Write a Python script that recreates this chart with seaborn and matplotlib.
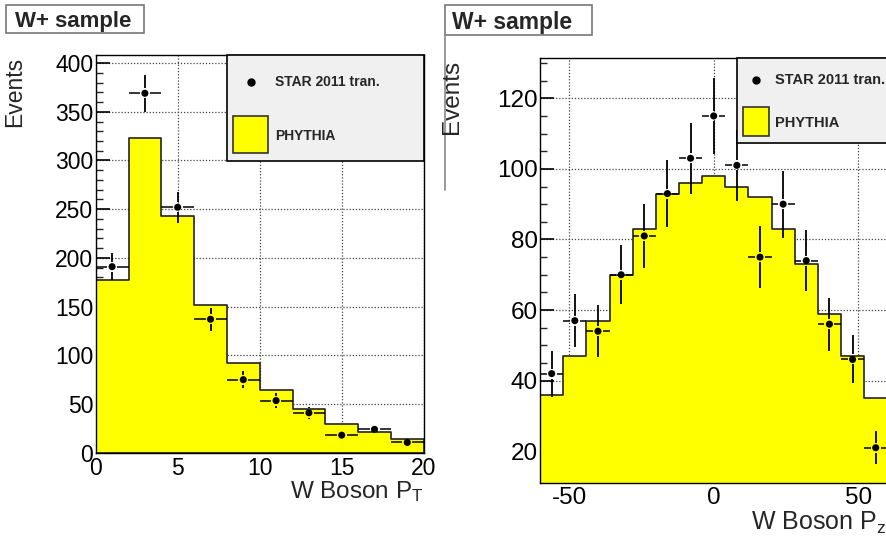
import numpy as np
import matplotlib
matplotlib.use("Agg")
import matplotlib.pyplot as plt
from matplotlib.patches import Rectangle
from matplotlib.lines import Line2D
from matplotlib.ticker import MultipleLocator
import seaborn as sns

# ---------------- data ----------------
pt_edges = [0, 2, 4, 6, 8, 10, 12, 14, 16, 18, 20]
pt_centers = [1, 3, 5, 7, 9, 11, 13, 15, 17, 19]
pt_mc = [177, 323, 243, 152, 92, 64, 45, 29, 21, 14.5]
pt_data = [191, 369, 252, 137, 75, 53.5, 41, 18, 24, 10.5]
pt_err = [13.8, 19.2, 15.9, 11.7, 8.7, 7.3, 6.4, 4.2, 4.9, 3.2]
pt_xerr = [1] * 10

pz_edges = [-60, -52, -44, -36, -28, -20, -12, -4, 4, 12, 20, 28, 36, 44, 52, 60]
pz_centers = [-56, -48, -40, -32, -24, -16, -8, 0, 8, 16, 24, 32, 40, 48, 56]
pz_mc = [36, 47, 57, 70, 83, 93, 96, 98, 95, 92, 83, 73, 59, 47, 35]
pz_data = [42, 57, 54, 70, 81, 93, 103, 115, 101, 75, 90, 74, 56, 46, 21]
pz_err = [6.5, 7.5, 7.3, 8.4, 9.0, 9.6, 10.1, 10.7, 10.0, 8.7, 9.5, 8.6, 7.5, 6.8, 4.6]
pz_xerr = [4] * 15

legend_data = "STAR 2011 tran."
legend_mc = "PHYTHIA"
title = "W+ sample"

# ---------------- style ----------------
sns.set_theme(style="white")
plt.rcParams["font.family"] = ["Liberation Sans", "DejaVu Sans"]
plt.rcParams["mathtext.fontset"] = "custom"
plt.rcParams["mathtext.rm"] = "Liberation Sans"
plt.rcParams["mathtext.it"] = "Liberation Sans"
plt.rcParams["axes.unicode_minus"] = False

W, H = 887, 539
fig = plt.figure(figsize=(W / 100, H / 100), dpi=100)
fig.patch.set_facecolor("white")


def fx(x):
    return x / W


def fy(y):
    return 1 - y / H


def make_axes(l, r, t, b):
    return fig.add_axes([fx(l), fy(b), (r - l) / W, (b - t) / H])


ax1 = make_axes(95.7, 423.7, 55, 452.7)
ax2 = make_axes(540.1, 887.3, 57.7, 483)

YELLOW = "#ffff00"


def draw_panel(ax, edges, centers, mc, data, err, xerr, xlim, ylim,
               ymaj, ymin_, xmaj, tick_fs):
    ax.set_axisbelow(True)
    sns.histplot(x=centers, weights=mc, bins=edges, element="step", fill=True,
                 color=YELLOW, alpha=1, edgecolor="#222222", linewidth=1.2,
                 ax=ax, legend=False, zorder=2)
    ax.set_xlim(*xlim)
    ax.set_ylim(*ylim)
    ax.set_xlabel("")
    ax.set_ylabel("")
    ax.yaxis.set_major_locator(MultipleLocator(ymaj))
    ax.yaxis.set_minor_locator(MultipleLocator(ymin_))
    ax.xaxis.set_major_locator(MultipleLocator(xmaj))
    ax.grid(True, which="major", linestyle=(0, (1, 1.5)), color="#444444",
            linewidth=0.9)
    ax.tick_params(axis="y", which="major", direction="in", length=10,
                   width=1.2, left=True, right=False, pad=1.8,
                   labelsize=tick_fs, colors="black")
    ax.tick_params(axis="y", which="minor", direction="in", length=5,
                   width=1, left=True, right=False)
    ax.tick_params(axis="x", which="both", length=0, pad=3,
                   labelsize=tick_fs, colors="black")
    for s in ax.spines.values():
        s.set_color("black")
        s.set_linewidth(1)
        s.set_zorder(6)

    # error bars with a gap around the marker (ROOT style)
    pos = ax.get_position()
    wpx, hpx = pos.width * W, pos.height * H
    gap = 5.0
    gx = gap * (xlim[1] - xlim[0]) / wpx
    gy = gap * (ylim[1] - ylim[0]) / hpx
    x = np.asarray(centers, float)
    y = np.asarray(data, float)
    ex = np.asarray(xerr, float)
    ey = np.asarray(err, float)
    ax.hlines(np.r_[y, y], np.r_[x - ex, x + gx], np.r_[x - gx, x + ex],
              color="black", linewidth=1.1, zorder=4)
    m = ey > gy
    ax.vlines(np.r_[x[m], x[m]], np.r_[y[m] - ey[m], y[m] + gy],
              np.r_[y[m] - gy, y[m] + ey[m]], color="black", linewidth=1.3,
              zorder=4)
    sns.scatterplot(x=x, y=y, color="black", s=26, edgecolor="none",
                    ax=ax, zorder=5, legend=False)
    ax.set_xlim(*xlim)
    ax.set_ylim(*ylim)


draw_panel(ax1, pt_edges, pt_centers, pt_mc, pt_data, pt_err, pt_xerr,
           (0, 20), (0, 408.3), 50, 10, 5, 16.5)
draw_panel(ax2, pz_edges, pz_centers, pz_mc, pz_data, pz_err, pz_xerr,
           (-60, 60), (11, 131.5), 20, 5, 50, 17.5)


# ---------------- title boxes ----------------
def title_box(l, t, r, b, tx, fs):
    fig.add_artist(Rectangle((fx(l), fy(b)), (r - l) / W, (b - t) / H,
                             transform=fig.transFigure, facecolor="white",
                             edgecolor="#777777", linewidth=1.2))
    fig.text(fx(tx), fy((t + b) / 2), title, fontsize=fs, fontweight="bold",
             ha="left", va="center_baseline")


title_box(6, 5, 144, 33.3, 15, 16)
title_box(445, 5, 591.7, 35, 451.7, 16.5)
fig.add_artist(Line2D([fx(445), fx(445)], [fy(35), fy(190)],
                      transform=fig.transFigure, color="#888888", lw=1.2))


# ---------------- legends ----------------
def legend_box(l, t, r, b, mx, my, tx, bx0, bx1, by0, by1, py, fs):
    fig.add_artist(Rectangle((fx(l), fy(b)), (r - l) / W, (b - t) / H,
                             transform=fig.transFigure, facecolor="#f0f0f0",
                             edgecolor="black", linewidth=1.2, zorder=10))
    fig.add_artist(Line2D([fx(mx)], [fy(my)], marker="o", markersize=5,
                          color="black", linestyle="none",
                          transform=fig.transFigure, zorder=11))
    fig.text(fx(tx), fy(my), legend_data, fontsize=fs, fontweight="bold",
             ha="left", va="center", zorder=11)
    fig.add_artist(Rectangle((fx(bx0), fy(by1)), (bx1 - bx0) / W,
                             (by1 - by0) / H, transform=fig.transFigure,
                             facecolor=YELLOW, edgecolor="#333333",
                             linewidth=1.2, zorder=11))
    fig.text(fx(tx), fy(py), legend_mc, fontsize=fs, fontweight="bold",
             ha="left", va="center", zorder=11)


legend_box(227.3, 55, 424, 161, 251, 82, 275, 233.3, 268.3, 116, 153.3,
           135.5, 10)
legend_box(737.3, 58, 900, 143.3, 756, 80, 775, 742.7, 769.3, 107.3, 136,
           123, 10.5)

# ---------------- axis labels ----------------
fig.text(fx(14.5), fy(56.6), "Events", rotation=90, fontsize=16.5,
         ha="center", va="top")
fig.text(fx(452), fy(60), "Events", rotation=90, fontsize=17.5,
         ha="center", va="top")
fig.text(fx(424), fy(492), r"W Boson P$_{\mathrm{T}}$", fontsize=17.5,
         ha="right", va="center")
fig.text(fx(751), fy(523), r"W Boson P$_{\mathrm{z}}$", fontsize=18,
         ha="left", va="center")

fig.savefig("out.png", dpi=100)
